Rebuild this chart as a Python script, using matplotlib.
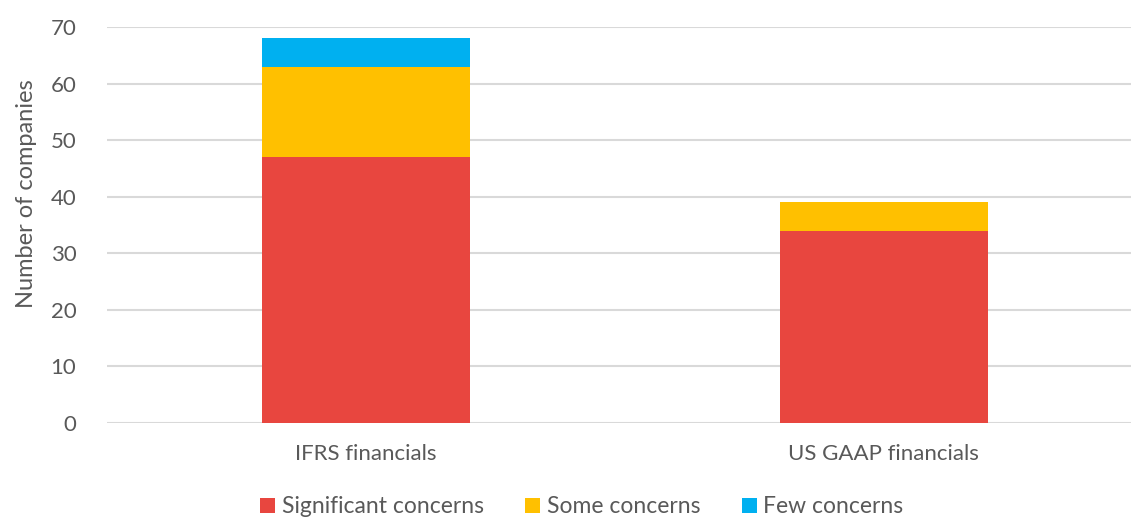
import matplotlib
matplotlib.use("Agg")
import matplotlib.pyplot as plt
import numpy as np

categories = ["IFRS financials", "US GAAP financials"]
significant = [47, 34]
some = [16, 5]
few = [5, 0]

series_names = ["Significant concerns", "Some concerns", "Few concerns"]
colors = ["#E8463F", "#FFC000", "#00B0F0"]

plt.rcParams['font.family'] = ['Lato', 'DejaVu Sans']
text_color = "#595959"

fig = plt.figure(figsize=(11.31, 5.18), dpi=100)
ax = fig.add_axes([0.0946, 0.1834, 0.9054, 0.7645])

x = np.arange(len(categories))
bottom = np.zeros(len(categories))
for vals, name, col in zip([significant, some, few], series_names, colors):
    ax.bar(x, vals, 0.4, bottom=bottom, color=col, label=name, zorder=3)
    bottom += np.array(vals)

ax.set_xlim(-0.5, 1.477)
ax.set_ylim(0, 70)
ax.set_yticks(range(0, 71, 10))
ax.set_xticks(x)
ax.set_xticklabels(categories)
ax.yaxis.grid(True, color="#d9d9d9", linewidth=1.5, zorder=0)
for s in ax.spines.values():
    s.set_visible(False)
ax.tick_params(axis='both', length=0, labelsize=16, colors=text_color)
ax.tick_params(axis='y', pad=22)
ax.tick_params(axis='x', pad=15)
ax.set_ylabel("Number of companies", fontsize=17, color=text_color, labelpad=10, y=0.58)

ax.legend(loc='center', bbox_to_anchor=(0.5 - 0.0946 / 2 + 0.011, -0.212), ncol=3, frameon=False,
          fontsize=16.5, labelcolor=text_color, handlelength=0.65, handleheight=0.65,
          handletextpad=0.3, columnspacing=1.8, borderpad=0)

fig.savefig("out.png", dpi=100)
